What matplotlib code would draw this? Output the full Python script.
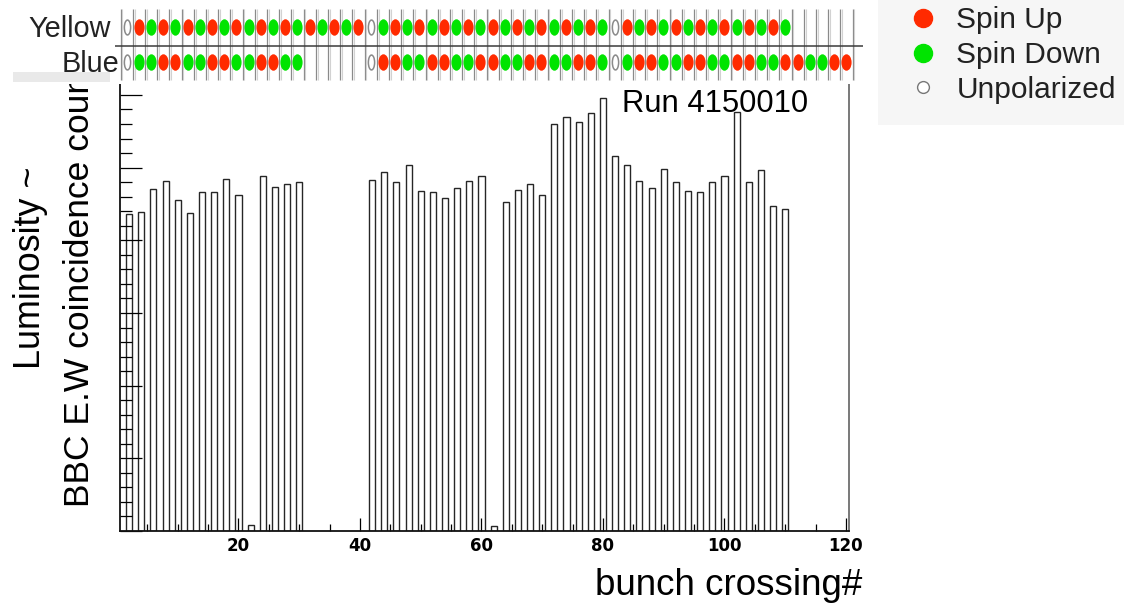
import numpy as np
import matplotlib
matplotlib.use('Agg')
import matplotlib.pyplot as plt
from matplotlib.path import Path
from matplotlib.transforms import Affine2D, Bbox, TransformedBbox
from matplotlib.lines import Line2D
from matplotlib.patches import Rectangle
from matplotlib.ticker import MultipleLocator

# ---------------- data ----------------
bunch = [2, 4, 6, 8, 10, 12, 14, 16, 18, 20, 22, 24, 26, 28, 30,
         42, 44, 46, 48, 50, 52, 54, 56, 58, 60, 62,
         64, 66, 68, 70, 72, 74, 76, 78, 80, 82, 84, 86, 88, 90,
         92, 94, 96, 98, 100, 102, 104, 106, 108, 110]
counts = [4360, 4390, 4710, 4810, 4550, 4370, 4670, 4660, 4850, 4620, 80, 4890, 4740, 4770, 4800,
          4830, 4940, 4800, 5030, 4680, 4670, 4580, 4720, 4820, 4880, 70,
          4520, 4690, 4780, 4630, 5600, 5690, 5630, 5750, 5960, 5160, 5030, 4820, 4720, 4980,
          4800, 4680, 4660, 4800, 4880, 5760, 4800, 4970, 4470, 4430]
x_ticks = [20, 40, 60, 80, 100, 120]
y_ticks = [0, 1000, 2000, 3000, 4000, 5000, 6000]

# spin patterns per RHIC bunch column: U = up, D = down, O = unpolarized, - = empty
yellow_pattern = ("OUDUDUDUDUDUDUDUDUDU" + "O" + "DUDUDUDUDUDUDUDUDUD" +
                  "O" + "UDUDUDUDUDUDUD" + "-----")
blue_pattern = ("ODDUUDDUUDDUUDD" + "-----" + "O" + "UUDDUUDDUUDDUUDDUUD" +
                "O" + "DUUDDUUDDUUDDUUDDUU")
row_names = ["Yellow", "Blue"]
legend_labels = ["Spin Up", "Spin Down", "Unpolarized"]
run_label = "Run 4150010"
xlabel = "bunch crossing#"
ylabel_lines = ["Luminosity ~", "BBC E.W coincidence counts"]

RED = '#ff2a00'
GREEN = '#00e400'

W, H = 1124, 603
def fx(px): return px / W
def fy(py): return 1 - py / H

plt.rcParams['font.family'] = ['Liberation Sans', 'DejaVu Sans']

fig = plt.figure(figsize=(W / 100, H / 100), dpi=100)

# ---------------- main histogram ----------------
ax = fig.add_axes([fx(120), fy(531), fx(849) - fx(120), (531 - 80.4) / H])
ax.bar(bunch, counts, width=1.0, facecolor='white', edgecolor='#262626', linewidth=1.0)
ax.set_xlim(0.5, 120.5)
ax.set_ylim(0, 6200)
ax.set_xticks(x_ticks)
ax.set_yticks(y_ticks)
ax.xaxis.set_minor_locator(MultipleLocator(5))
ax.yaxis.set_minor_locator(MultipleLocator(200))
ax.tick_params(axis='x', which='major', direction='in', length=9.5, width=0.9, pad=4.5)
ax.tick_params(axis='x', which='minor', direction='in', length=5, width=0.9)
# the y tick labels are hidden behind the axis title in the reference
ax.tick_params(axis='y', which='major', direction='in', length=16, width=0.9, labelleft=False)
ax.tick_params(axis='y', which='minor', direction='in', length=8.6, width=0.9)
for lbl in ax.get_xticklabels():
    lbl.set_fontfamily('DejaVu Sans')
    lbl.set_fontweight('bold')
    lbl.set_fontsize(12)
for side in ['left', 'bottom']:
    ax.spines[side].set_linewidth(1.3)
    ax.spines[side].set_color('#111111')
ax.spines['right'].set_linewidth(1.1)
ax.spines['right'].set_color('#555555')
ax.spines['top'].set_visible(False)

# y-axis label (two lines); the top of the second line is cut off by the spin strip
clip = TransformedBbox(Bbox([[0, 0], [fx(118), fy(84)]]), fig.transFigure)
t1 = ax.text(fx(40), fy(369), ylabel_lines[0], transform=fig.transFigure, rotation=90,
             rotation_mode='anchor', ha='left', va='baseline', fontsize=25.8, color='black', zorder=4)
t2 = ax.text(fx(89), fy(507), ylabel_lines[1], transform=fig.transFigure, rotation=90,
             rotation_mode='anchor', ha='left', va='baseline', fontsize=25.5, color='black', zorder=4)
for t in (t1, t2):
    t.set_clip_on(True)
    t.set_clip_box(clip)
# x-axis label
ax.text(fx(862), fy(595), xlabel, transform=fig.transFigure, ha='right', va='baseline',
        fontsize=26.5, color='black')
# run label
ax.text(fx(622), fy(112), run_label, transform=fig.transFigure, ha='left', va='baseline',
        fontsize=22.3, color='black')

# ---------------- spin pattern strip ----------------
sax = fig.add_axes([0, fy(84), fx(865), 84 / H])
sax.set_zorder(5)
sax.set_facecolor('white')
sax.set_xlim(-10.385, 60.52)
sax.set_ylim(1.637, -0.763)
sax.set_xticks([])
sax.set_yticks([])
for s in sax.spines.values():
    s.set_visible(False)

ncol = len(yellow_pattern)
edges = np.arange(ncol + 1) - 0.5
sax.vlines(edges, -0.506, 1.523, color='#8a8a8a', linewidth=0.9)
sax.vlines(edges + 0.15, -0.506, 1.523, color='#d2d2d2', linewidth=0.8)
sax.hlines(0.551, -0.96, 60.35, color='#3a3a3a', linewidth=1.1)

ell = Path.unit_circle().transformed(Affine2D().scale(0.62, 1.0))
ell_open = Path.unit_circle().transformed(Affine2D().scale(0.42, 1.0))
for row, pat in enumerate([yellow_pattern, blue_pattern]):
    up = [i for i, c in enumerate(pat) if c == 'U']
    dn = [i for i, c in enumerate(pat) if c == 'D']
    un = [i for i, c in enumerate(pat) if c == 'O']
    sax.scatter(up, [row] * len(up), marker=ell, s=140, color=RED, linewidths=0, zorder=3)
    sax.scatter(dn, [row] * len(dn), marker=ell, s=140, color=GREEN, linewidths=0, zorder=3)
    sax.scatter(un, [row] * len(un), marker=ell_open, s=115, facecolors='white',
                edgecolors='#8a8a8a', linewidths=1.1, zorder=3)

sax.add_patch(Rectangle((fx(13), fy(82)), fx(110) - fx(13), 10 / H, transform=fig.transFigure,
                        facecolor='#e9e9e9', edgecolor='none'))
sax.text(fx(111), fy(37), row_names[0], transform=fig.transFigure, ha='right', va='baseline',
         fontsize=20.8, color='#222222')
sax.text(fx(119), fy(72), row_names[1], transform=fig.transFigure, ha='right', va='baseline',
         fontsize=20.8, color='#222222')

# ---------------- legend ----------------
fig.patches.append(Rectangle((fx(878), fy(125)), 1 - fx(878), 125 / H, transform=fig.transFigure,
                             facecolor='#f6f6f6', edgecolor='none', figure=fig))
handles = [Line2D([], [], ls='none', marker='o', ms=13, mfc=RED, mec=RED),
           Line2D([], [], ls='none', marker='o', ms=13, mfc=GREEN, mec=GREEN),
           Line2D([], [], ls='none', marker='o', ms=8.5, mfc='white', mec='#777777', mew=1.0)]
fig.legend(handles, legend_labels, loc='upper left', bbox_to_anchor=(fx(878), fy(-23.5)),
           borderaxespad=0, borderpad=0.995, handlelength=1.0, handletextpad=0.63,
           labelspacing=0.23, frameon=False, fontsize=21.5, labelcolor='#222222')

fig.savefig('out.png', dpi=100)
